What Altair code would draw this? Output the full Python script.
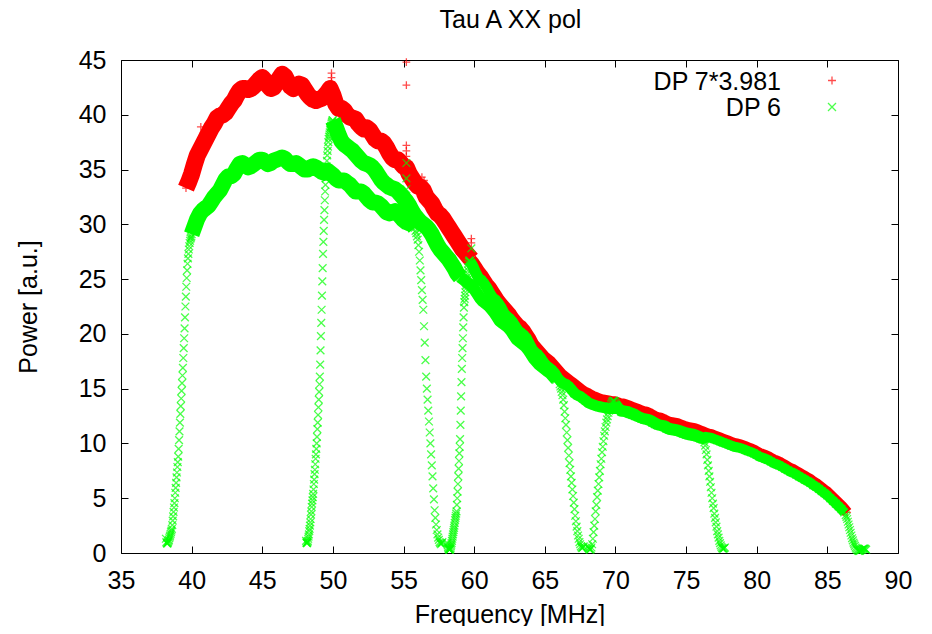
import numpy as np
import pandas as pd
import altair as alt

TITLE = "Tau A XX pol"
SERIES = ["DP 7*3.981", "DP 6"]
COLORS = ["#ff0000", "#00ff00"]
PLUS = "M-1,0L1,0M0,-1L0,1"
CROSS = "M-1,-1L1,1M-1,1L1,-1"
X_TICKS = [35, 40, 45, 50, 55, 60, 65, 70, 75, 80, 85, 90]
Y_TICKS = [0, 5, 10, 15, 20, 25, 30, 35, 40, 45]

# ---- DP 7 * 3.981 : regular 0.2 MHz grid starting at 39.6 MHz ----
red_start, red_step = 39.6, 0.2
red_power = [
    33.3, 33.9, 34.6, 35.5, 36.3, 36.8, 37.3, 37.8, 38.3, 38.8,
    39.2, 39.7, 39.9, 40.0, 40.2, 40.6, 41.0, 41.3, 41.8, 42.2,
    42.4, 42.4, 42.3, 42.4, 42.6, 42.9, 43.2, 43.4, 43.1, 42.7,
    42.4, 42.5, 42.9, 43.3, 43.7, 43.5, 43.0, 42.6, 42.4, 42.6,
    42.8, 42.7, 42.3, 41.9, 41.6, 41.4, 41.3, 41.4, 41.5, 41.7,
    42.0, 42.4, 41.8, 41.0, 40.6, 40.6, 40.4, 40.0, 39.8, 39.7,
    39.6, 39.2, 38.9, 38.7, 38.8, 38.6, 38.2, 37.8, 37.6, 37.6,
    37.4, 37.0, 36.5, 36.1, 35.9, 35.9, 35.6, 35.3, 35.2, 34.6,
    34.2, 33.8, 33.5, 33.4, 33.1, 32.5, 32.2, 31.9, 31.4, 31.0,
    30.8, 30.5, 30.1, 29.7, 29.3, 28.9, 28.5, 28.1, 27.7, 27.4,
    27.1, 26.8, 26.5, 26.1, 25.7, 25.4, 25.0, 24.6, 24.3, 23.9,
    23.5, 23.1, 22.8, 22.5, 22.2, 21.9, 21.5, 21.2, 20.9, 20.7,
    20.4, 20.0, 19.6, 19.1, 18.8, 18.5, 18.2, 17.9, 17.7, 17.5,
    17.2, 16.9, 16.6, 16.3, 16.1, 15.9, 15.7, 15.5, 15.3, 15.1,
    14.9, 14.7, 14.6, 14.45, 14.3, 14.2, 14.1, 14.0, 13.95, 13.9,
    13.85, 13.8, 13.8, 13.7, 13.6, 13.6, 13.5, 13.4, 13.3, 13.2,
    13.1, 13.0, 12.9, 12.85, 12.75, 12.6, 12.45, 12.35, 12.3, 12.2,
    12.05, 11.95, 11.9, 11.85, 11.8, 11.7, 11.6, 11.5, 11.45, 11.4,
    11.35, 11.25, 11.15, 11.05, 10.95, 10.85, 10.8, 10.7, 10.6, 10.5,
    10.4, 10.3, 10.2, 10.1, 10.0, 9.95, 9.9, 9.8, 9.7, 9.6,
    9.5, 9.4, 9.25, 9.1, 9.0, 8.9, 8.8, 8.65, 8.5, 8.4,
    8.3, 8.15, 8.0, 7.85, 7.7, 7.6, 7.45, 7.3, 7.15, 7.0,
    6.85, 6.7, 6.5, 6.35, 6.15, 5.95, 5.75, 5.55, 5.3, 5.05,
    4.8, 4.55, 4.3, 4.0, 3.7,
]
red_spike_freq = [39.75, 40.65, 40.85, 49.9, 49.9, 49.9, 55.2, 55.2, 55.2, 55.2, 55.2, 56.3, 56.45, 59.8, 59.8]
red_spike_power = [35.0, 38.9, 38.4, 43.8, 43.4, 43.0, 44.8, 42.7, 37.2, 36.7, 36.2, 34.3, 34.0, 28.7, 28.3]

# ---- DP 6 : four overlapping sub-bands, each as (start MHz, step MHz, values) ----
seg1_rise = (38.18, 0.03, [
    1.3, 1.0, 0.9, 0.85, 0.9, 1.0, 1.1, 1.2, 1.35, 1.5,
    1.6, 1.75, 1.9, 2.05, 2.2, 2.55, 2.95, 3.35, 3.75, 4.15,
    4.55, 5.0, 5.5, 5.95, 6.4, 6.9, 7.35, 7.85, 8.3, 8.8,
    9.5, 10.3, 11.1, 11.9, 12.7, 13.4, 14.1, 14.8, 15.5, 16.2,
    16.9, 17.8, 18.7, 19.6, 20.5, 21.5, 22.5, 23.4, 24.3, 25.1,
    25.8, 26.4, 26.9, 27.3, 27.7, 28.0, 28.3, 28.5, 28.7, 28.8,
    28.9,
])
seg1_body = (40.0, 0.2, [
    29.1, 29.8, 30.5, 31.0, 31.3, 31.5, 31.7, 32.1, 32.5, 32.8,
    33.1, 33.6, 34.1, 34.4, 34.4, 34.6, 35.1, 35.5, 35.6, 35.4,
    35.2, 35.3, 35.5, 35.7, 35.9, 35.9, 35.7, 35.5, 35.6, 35.8,
    35.9, 36.0, 36.1, 36.0, 35.7, 35.5, 35.5, 35.6, 35.4, 35.2,
    35.0, 35.0, 35.2, 35.3, 35.2, 35.0, 34.8, 34.7, 34.9, 34.7,
    34.5, 34.2, 34.0, 34.0, 34.0, 33.8, 33.6, 33.3, 33.0, 33.0,
    33.0, 32.8, 32.5, 32.2, 32.0, 32.0, 31.9, 31.7, 31.4, 31.1,
    31.0, 31.1, 31.2, 31.0, 30.7, 30.4, 30.2, 30.1, 30.0, 29.7,
])
seg1_fall = (55.85, 0.05, [
    29.4, 29.2, 28.9, 28.6, 28.1, 27.5, 26.7, 25.8, 24.9, 24.0,
    23.1, 22.2, 20.7, 19.2, 17.6, 16.1, 15.0, 14.0, 13.0, 12.0,
    11.0, 10.0, 9.0, 8.0, 7.0, 5.9, 4.9, 3.9, 3.2, 2.6,
    2.1, 1.7, 1.4, 1.2, 1.0, 0.9, 0.8, 0.9, 1.0,
])
seg2_rise = (48.10, 0.025, [
    1.1, 0.95, 0.9, 0.9, 1.0, 1.1, 1.3, 1.5, 1.7, 2.0,
    2.2, 2.5, 2.8, 3.1, 3.5, 3.8, 4.2, 4.5, 4.8, 5.1,
    5.4, 5.8, 6.3, 6.7, 7.2, 7.6, 8.1, 8.6, 9.0, 9.5,
    10.0, 10.6, 11.3, 11.9, 12.6, 13.3, 14.0, 14.7, 15.4, 16.1,
    17.2, 18.5, 19.8, 21.0, 22.2, 23.5, 24.8, 26.0, 27.3, 28.4,
    29.4, 30.4, 31.3, 32.2, 33.0, 33.6, 34.2, 34.7, 35.3, 35.8,
    36.3, 36.7, 37.1, 37.5, 37.8, 38.0, 38.2, 38.4, 38.6, 38.8,
    38.9, 39.0, 39.2, 39.3, 39.4, 39.5,
])
seg2_body = (50.0, 0.2, [
    39.5, 38.9, 38.2, 37.6, 37.3, 37.1, 36.9, 36.7, 36.4, 36.1,
    35.8, 35.6, 35.5, 35.4, 35.2, 34.9, 34.5, 34.1, 33.8, 33.6,
    33.4, 33.3, 33.2, 33.0, 32.7, 32.4, 32.1, 31.7, 31.2, 30.8,
    30.5, 30.2, 30.0, 29.8, 29.5, 29.1, 28.6, 28.1, 27.7, 27.4,
    27.1, 26.8, 26.4, 26.0, 25.5, 25.2, 25.0, 24.8, 24.6, 24.4,
    24.1, 23.7, 23.3, 23.0, 22.8, 22.6, 22.3, 22.0, 21.6, 21.2,
    21.0, 20.8, 20.6, 20.3, 19.9, 19.5, 19.3, 19.1, 18.9, 18.6,
    18.2, 17.8, 17.5, 17.2, 17.0, 16.8, 16.6, 16.4, 16.1, 15.8,
])
seg2_fall = (66.05, 0.05, [
    15.4, 15.2, 15.0, 14.7, 14.4, 14.0, 13.5, 12.9, 12.3, 11.7,
    11.0, 10.3, 9.6, 8.9, 8.2, 7.6, 7.0, 6.4, 5.8, 5.2,
    4.6, 4.0, 3.4, 2.9, 2.4, 2.0, 1.6, 1.3, 1.0, 0.8,
    0.6, 0.5, 0.45, 0.5, 0.6,
])
seg3_rise = (58.10, 0.025, [
    0.9, 0.7, 0.55, 0.45, 0.38, 0.33, 0.3, 0.3, 0.35, 0.45,
    0.6, 0.75, 0.9, 1.1, 1.3, 1.5, 1.7, 1.9, 2.1, 2.3,
    2.5, 2.75, 3.0, 3.2, 3.4, 3.6, 3.8, 4.4, 5.0, 5.6,
    6.3, 7.0, 7.7, 8.4, 9.1, 9.7, 10.4, 11.7, 13.0, 14.3,
    15.6, 16.8, 17.8, 18.7, 19.6, 20.6, 21.5, 22.4, 22.9, 23.2,
    23.5, 23.8, 24.1, 24.4, 24.6, 24.9, 25.2, 25.5, 25.8, 26.1,
    26.4, 26.6, 26.7, 26.7,
])
seg3_body = (59.7, 0.2, [
    26.6, 26.2, 25.6, 25.1, 24.9, 24.6, 24.2, 23.7, 23.3, 23.1,
    22.8, 22.4, 21.9, 21.6, 21.4, 21.1, 20.7, 20.3, 20.1, 19.9,
    19.6, 19.1, 18.6, 18.3, 18.1, 17.8, 17.4, 17.1, 16.9, 16.7,
    16.4, 16.0, 15.7, 15.5, 15.4, 15.2, 14.9, 14.6, 14.4, 14.3,
    14.1, 13.9, 13.7, 13.6, 13.5, 13.4, 13.35, 13.3, 13.25, 13.2,
    13.2, 13.2, 13.2, 13.1, 13.0, 12.95, 12.9, 12.8, 12.7, 12.55,
    12.4, 12.3, 12.25, 12.2, 12.1, 11.95, 11.8, 11.7, 11.65, 11.6,
    11.45, 11.35, 11.3, 11.25, 11.2, 11.1, 11.0, 10.95, 10.9, 10.85,
    10.75, 10.65, 10.55,
])
seg3_fall = (76.25, 0.05, [
    10.4, 10.1, 9.8, 9.4, 9.0, 8.5, 8.0, 7.5, 7.0, 6.5,
    6.0, 5.5, 5.0, 4.5, 4.1, 3.6, 3.2, 2.8, 2.4, 2.0,
    1.7, 1.4, 1.1, 0.9, 0.7, 0.55, 0.45, 0.4, 0.4, 0.45,
    0.5,
])
seg4_rise = (68.05, 0.05, [
    0.6, 0.45, 0.35, 0.3, 0.35, 0.5, 0.8, 1.3, 1.9, 2.5,
    3.1, 3.8, 4.4, 5.1, 5.7, 6.3, 6.9, 7.5, 8.1, 8.6,
    9.2, 9.7, 10.2, 10.7, 11.1, 11.5, 11.9, 12.2, 12.5, 12.8,
    13.0, 13.2, 13.4, 13.6, 13.75, 13.85, 13.9, 13.9, 13.85,
])
seg4_body = (70.0, 0.2, [
    13.7, 13.3, 12.9, 12.9, 12.8, 12.7, 12.6, 12.5, 12.4, 12.3,
    12.2, 12.15, 12.05, 11.9, 11.75, 11.65, 11.6, 11.5, 11.35, 11.25,
    11.2, 11.15, 11.1, 11.0, 10.9, 10.8, 10.75, 10.7, 10.65, 10.55,
    10.45, 10.4, 10.6, 10.55, 10.5, 10.4, 10.3, 10.2, 10.1, 10.0,
    9.9, 9.8, 9.7, 9.65, 9.6, 9.5, 9.4, 9.3, 9.2, 9.1,
    8.95, 8.8, 8.7, 8.6, 8.5, 8.35, 8.2, 8.1, 8.0, 7.85,
    7.7, 7.55, 7.4, 7.3, 7.15, 7.0, 6.85, 6.7, 6.55, 6.4,
    6.2, 6.05, 5.85, 5.65, 5.45, 5.25, 5.0, 4.75, 4.5, 4.25,
    4.0, 3.7,
])
seg4_fall = (86.30, 0.05, [
    3.45, 3.3, 3.1, 2.85, 2.6, 2.35, 2.1, 1.85, 1.6, 1.35,
    1.15, 0.95, 0.8, 0.65, 0.5, 0.4, 0.3, 0.25, 0.2, 0.2,
    0.2, 0.25, 0.3, 0.3, 0.35, 0.4, 0.4, 0.4, 0.35, 0.3,
])
green_spike_freq = [55.2, 55.2, 55.2, 59.8]
green_spike_power = [35.6, 34.2, 33.2, 27.8]


def grid(start, step, vals):
    return list(np.round(start + step * np.arange(len(vals)), 4))


# ---------- point table ----------
freq, power, series = [], [], []


def add(fs, ps, name):
    freq.extend(fs)
    power.extend(ps)
    series.extend([name] * len(ps))


red_freq = grid(red_start, red_step, red_power)
add(red_freq, red_power, SERIES[0])
add(red_spike_freq, red_spike_power, SERIES[0])
for s, st, v in [seg1_rise, seg1_body, seg1_fall, seg2_rise, seg2_body, seg2_fall,
                 seg3_rise, seg3_body, seg3_fall, seg4_rise, seg4_body, seg4_fall]:
    add(grid(s, st, v), v, SERIES[1])
add(green_spike_freq, green_spike_power, SERIES[1])

df = pd.DataFrame({"freq": freq, "power": power, "series": series})

# ---------- dense-band table (the overlapping markers of the body of each band) ----------
band_rows = []


def band(name, fs, ps, lo, hi, width):
    for f, p in zip(fs, ps):
        if lo <= f <= hi:
            band_rows.append({"freq": f, "power": p, "piece": name, "width": width})


band("r1", red_freq, red_power, 39.6, 59.8, 17)
band("r2", red_freq, red_power, 59.8, 86.4, 11)
s1f = grid(*seg1_body[:2], seg1_body[2])
s2f = grid(*seg2_body[:2], seg2_body[2])
s3f = grid(*seg3_body[:2], seg3_body[2])
s4f = grid(*seg4_body[:2], seg4_body[2])
band("g1", s1f, seg1_body[2], 40.0, 55.8, 16)
band("g2a", s2f, seg2_body[2], 50.0, 59.0, 16)
band("g2b", s2f, seg2_body[2], 59.0, 65.8, 12)
band("g3", s3f, seg3_body[2], 59.7, 76.1, 11)
band("g4", s4f, seg4_body[2], 70.0, 86.2, 10)
bands = pd.DataFrame(band_rows)
red_bands = bands[bands["piece"].str.startswith("r")]
green_bands = bands[bands["piece"].str.startswith("g")]

frame_df = pd.DataFrame({"freq": [X_TICKS[0], X_TICKS[-1]], "power": [Y_TICKS[0], Y_TICKS[-1]]})
legend_df = pd.DataFrame({"series": SERIES})
title_df = pd.DataFrame({"title": [TITLE]})

FONT = "Liberation Sans"
FS = 25
W, H = 777, 493

xscale = alt.Scale(domain=[35, 90], nice=False, zero=False)
yscale = alt.Scale(domain=[0, 45], nice=False, zero=False)

common_axis = dict(domain=False, grid=False, tickSize=7, tickColor="black", tickWidth=1,
                   offset=-7, labelFont=FONT, labelFontSize=FS, labelColor="black",
                   labelFlush=False, labelOverlap=False, titleFont=FONT, titleFontSize=FS,
                   titleFontWeight="normal", titleColor="black", format="d")

x_main = alt.X("freq:Q", scale=xscale,
               axis=alt.Axis(values=X_TICKS, labelPadding=15, title="Frequency [MHz]",
                             titlePadding=9, **common_axis))
y_main = alt.Y("power:Q", scale=yscale,
               axis=alt.Axis(values=Y_TICKS, labelPadding=15, title="Power [a.u.]",
                             titlePadding=37, **common_axis))
x_plain = alt.X("freq:Q", scale=xscale, axis=None)
y_plain = alt.Y("power:Q", scale=yscale, axis=None)

color_enc = alt.Color("series:N", scale=alt.Scale(domain=SERIES, range=COLORS), legend=None)
shape_enc = alt.Shape("series:N", scale=alt.Scale(domain=SERIES, range=[PLUS, CROSS]), legend=None)


def band_layer(data, colour):
    return alt.Chart(data).mark_line(strokeCap="butt", strokeJoin="round").encode(
        x=x_plain, y=y_plain,
        detail="piece:N",
        strokeWidth=alt.StrokeWidth("width:Q", scale=None, legend=None),
        color=alt.value(colour),
    )


red_pts = alt.Chart(df[df["series"] == SERIES[0]]).mark_point(
    filled=False, strokeWidth=1.3, size=60).encode(x=x_main, y=y_main, color=color_enc, shape=shape_enc)
green_pts = alt.Chart(df[df["series"] == SERIES[1]]).mark_point(
    filled=False, strokeWidth=1.3, size=60).encode(x=x_plain, y=y_plain, color=color_enc, shape=shape_enc)

mirror = alt.Chart(frame_df).mark_point(opacity=0).encode(
    x=alt.X("freq:Q", scale=xscale,
            axis=alt.Axis(orient="top", values=X_TICKS, labels=False, title=None, **common_axis)),
    y=alt.Y("power:Q", scale=yscale,
            axis=alt.Axis(orient="right", values=Y_TICKS, labels=False, title=None, **common_axis)),
)

# plot title, centred over the plot area
title_layer = alt.Chart(title_df).mark_text(
    align="center", baseline="alphabetic", font=FONT, fontSize=FS, color="black").encode(
    text="title:N", x=alt.value(W / 2 + 1), y=alt.value(-32))

# gnuplot-style key: right-aligned text followed by the point symbol
key_layers = []
for i, (name, colour, path) in enumerate(zip(SERIES, COLORS, [PLUS, CROSS])):
    row = legend_df[legend_df["series"] == name]
    key_layers.append(alt.Chart(row).mark_text(
        align="right", baseline="alphabetic", font=FONT, fontSize=FS, color="black").encode(
        text="series:N", x=alt.value(660), y=alt.value(29.5 + 26 * i)))
    key_layers.append(alt.Chart(row).mark_point(filled=False, strokeWidth=1.3, size=64).encode(
        x=alt.value(711), y=alt.value(20.5 + 26.5 * i), color=alt.value(colour), shape=alt.value(path)))

chart = alt.layer(
    band_layer(red_bands, COLORS[0]), red_pts,
    band_layer(green_bands, COLORS[1]), green_pts,
    mirror, title_layer, *key_layers,
).resolve_axis(x="independent", y="independent").properties(
    width=W, height=H,
    autosize=alt.AutoSizeParams(type="none"),
    padding={"left": 113, "top": 52, "right": 26, "bottom": 73},
    background="white",
).configure_view(stroke="black", strokeWidth=1)

chart.save("out.html", embed_options={"renderer": "svg", "actions": False})
